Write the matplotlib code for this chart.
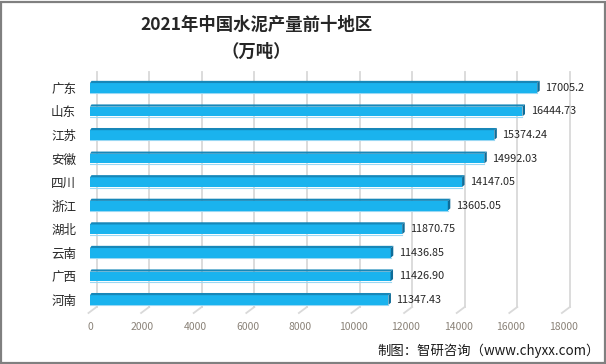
# 2021年中国水泥产量前十地区 横向3D柱状图
import matplotlib
matplotlib.use('Agg')
import matplotlib.pyplot as plt
from matplotlib.patches import Polygon, Rectangle
from matplotlib.transforms import ScaledTranslation
import numpy as np

plt.rcParams['font.family'] = ['Noto Sans CJK SC', 'DejaVu Sans']

# 数据
regions = ['广东', '山东', '江苏', '安徽', '四川', '浙江', '湖北', '云南', '广西', '河南']
output = [17005.2, 16444.73, 15374.24, 14992.03, 14147.05, 13605.05,
          11870.75, 11436.85, 11426.90, 11347.43]
value_labels = ['17005.2', '16444.73', '15374.24', '14992.03', '14147.05',
                '13605.05', '11870.75', '11436.85', '11426.90', '11347.43']
xticks = np.arange(0, 18001, 2000)

W, H = 606, 364
fig = plt.figure(figsize=(W / 100, H / 100), dpi=100)

# 坐标区 (像素位置)
left, right, top, bottom = 90, 563.4, 72, 313
ax = fig.add_axes([left / W, 1 - bottom / H, (right - left) / W, (bottom - top) / H])
xmax = 18000
row0, row_step = 87.9, 23.57
ax.set_xlim(0, xmax)
ax.set_ylim((bottom - row0) / row_step, (top - row0) / row_step)
for s in ax.spines.values():
    s.set_visible(False)

px_x = xmax / (right - left)   # 每像素对应的数据量
px_y = 1 / row_step

# 网格线 (后墙 + 底面斜线)
back = ax.transData + ScaledTranslation(6.5 / 100, 0, fig.dpi_scale_trans)
y_back_bottom = (307 - row0) / row_step
y_front_bottom = (313 - row0) / row_step
y_top = (top - row0) / row_step
for xv in xticks:
    ax.plot([xv, xv], [y_top, y_back_bottom], color='#d9d9d9', lw=1.3,
            transform=back, zorder=0, clip_on=False)
    ax.plot([xv + 6.5 * px_x, xv - 1.5 * px_x], [y_back_bottom, y_front_bottom],
            color='#d9d9d9', lw=1.3, zorder=0, clip_on=False)

# 柱子
y = np.arange(len(regions))
h = 9.7 * px_y
dx, dy = 2.5 * px_x, 2.2 * px_y
face, topc, capc = '#1ab3ee', '#1787b8', '#0f6c98'
ax.barh(y, output, height=h, color=face, zorder=2)
for yi, v in zip(y, output):
    y0 = yi - h / 2
    ax.add_patch(Polygon([(0, y0), (v, y0), (v + dx, y0 - dy), (dx * 0.6, y0 - dy)],
                         closed=True, color=topc, lw=0, zorder=3))
    ax.add_patch(Polygon([(v, y0), (v + dx, y0 - dy), (v + dx, y0 + h - dy), (v, y0 + h)],
                         closed=True, color=capc, lw=0, zorder=3))
    ax.plot([0, v], [yi + h / 2 + 0.5 * px_y] * 2, color='#9ad8f3', lw=0.8, zorder=1)

# 数值标签
for yi, v, t in zip(y, output, value_labels):
    ax.annotate(t, xy=(v, yi), xytext=(5.8, 0), textcoords='offset points',
                ha='left', va='center', fontsize=7.8, color='#262626')

# 坐标轴
ax.set_yticks(y)
ax.set_yticklabels(regions, fontsize=9, color='#262626')
ax.set_xticks(xticks)
ax.set_xticklabels([str(v) for v in xticks], fontsize=7.5, color='#8a8278')
ax.tick_params(axis='y', length=0, pad=10)
ax.tick_params(axis='x', length=0, pad=6.5)

# 标题
fig.text(256.5 / W, 1 - 25 / H, '2021年中国水泥产量前十地区', ha='center', va='center',
         fontsize=12.5, fontweight='bold', color='#262626')
fig.text(256.5 / W, 1 - 51.5 / H, '（万吨）', ha='center', va='center',
         fontsize=12.5, fontweight='bold', color='#262626')

# 来源
fig.text(600 / W, 1 - 351 / H, '制图：智研咨询（www.chyxx.com）', ha='right', va='center',
         fontsize=9.6, color='#1a1a1a')

# 边框
fig.add_artist(Rectangle((1 / W, 1.5 / H), 604 / W, 361 / H, transform=fig.transFigure,
                         fill=False, edgecolor='#808080', lw=1.6))

fig.savefig('out.png', dpi=100)
